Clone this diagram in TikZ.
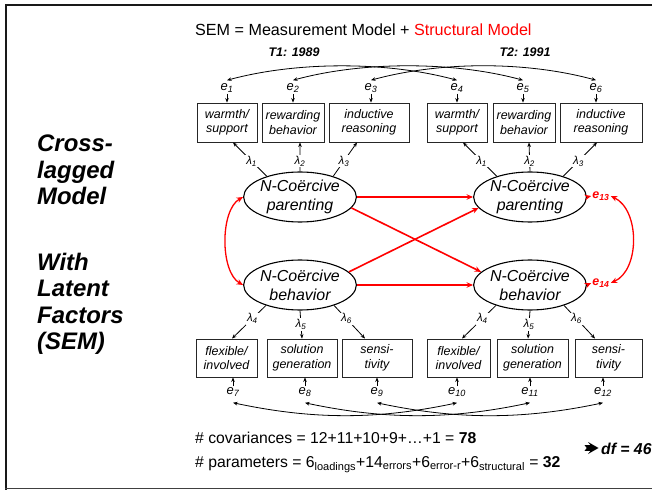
\documentclass[tikz,border=0pt]{standalone}
\usepackage{fontspec}
\setmainfont{Liberation Sans}
\usetikzlibrary{shapes.geometric,arrows.meta}

\tikzset{
  smalltip/.tip={Stealth[length=4.5bp,width=3.6bp]},
  redtip/.tip={Stealth[length=6.5bp,width=5.5bp]}
}

\begin{document}
\begin{tikzpicture}[x=1bp,y=-1bp,
  ind/.style={draw=black!85, line width=0.9bp, minimum height=39bp, inner sep=0pt,
    align=center, font=\fontsize{12.5}{14.5}\selectfont\itshape},
  lat/.style={ellipse, draw, line width=1.1bp, minimum width=104bp, minimum height=50bp,
    inner sep=0pt, align=center, font=\fontsize{16}{19}\selectfont\itshape},
  err/.style={inner sep=1pt, font=\fontsize{13}{15}\selectfont\itshape},
  rerr/.style={inner sep=1pt, text=red, font=\fontsize{12.5}{15}\selectfont\bfseries\itshape},
  lam/.style={fill=white, inner sep=1pt, font=\fontsize{11.5}{13}\selectfont\itshape},
  side/.style={anchor=base west, inner sep=0pt, font=\fontsize{24}{26.5}\selectfont\bfseries\itshape},
  txt/.style={anchor=base west, inner sep=0pt, font=\fontsize{15.8}{18}\selectfont},
  tlabel/.style={anchor=base, inner sep=0pt, font=\fontsize{12.5}{15}\selectfont\bfseries\itshape},
  arr/.style={-smalltip, line width=0.8bp},
  cov/.style={smalltip-smalltip, line width=0.8bp},
  rarr/.style={-redtip, draw=red, line width=1.6bp},
  rcov/.style={redtip-redtip, draw=red, line width=1.3bp}
]
% page and frame
\useasboundingbox (0,0) rectangle (652,490);
\fill[white] (0,0) rectangle (652,490);
\draw[line width=2.5bp, black!90] (6,490) -- (6,5) -- (652,5);
\draw[line width=1.5bp, black!75] (5,488.5) -- (652,488.5);

% headings
\node[anchor=base west, inner sep=0pt, font=\fontsize{16.2}{19}\selectfont] (title) at (195,36)
  {SEM = Measurement Model + \textcolor{red}{Structural Model}};
\node[tlabel] (t1) at (294,57) {T1: 1989};
\node[tlabel] (t2) at (525,57) {T2: 1991};

% side caption
\node[side] (s1) at (37,152) {Cross-};
\node[side] (s2) at (37,178.5) {lagged};
\node[side] (s3) at (37,205) {Model};
\node[side] (s4) at (37,270) {With};
\node[side] (s5) at (37,296.5) {Latent};
\node[side] (s6) at (37,323) {Factors};
\node[side] (s7) at (37,349.5) {(SEM)};

% indicators, first wave and second wave
\node[ind, minimum width=60bp] (b1) at (227,122.5) {warmth/\\support};
\node[ind, minimum width=62bp] (b2) at (293,122.5) {rewarding\\behavior};
\node[ind, minimum width=80bp] (b3) at (369,122.5) {inductive\\reasoning};
\node[ind, minimum width=60bp] (b4) at (457,122.5) {warmth/\\support};
\node[ind, minimum width=62bp] (b5) at (524,122.5) {rewarding\\behavior};
\node[ind, minimum width=82bp] (b6) at (601,122.5) {inductive\\reasoning};

\node[ind, minimum width=61bp, minimum height=38bp] (b7)  at (226.5,358) {flexible/\\involved};
\node[ind, minimum width=70bp, minimum height=38bp] (b8)  at (302,358) {solution\\generation};
\node[ind, minimum width=70bp, minimum height=38bp] (b9)  at (377,358) {sensi-\\tivity};
\node[ind, minimum width=63bp, minimum height=38bp] (b10) at (458.5,358) {flexible/\\involved};
\node[ind, minimum width=71bp, minimum height=38bp] (b11) at (532.5,358) {solution\\generation};
\node[ind, minimum width=67bp, minimum height=38bp] (b12) at (608.5,358) {sensi-\\tivity};

% latent factors
\node[lat] (pT1) at (300,197) {N-Coërcive\\parenting};
\node[lat] (pT2) at (530,197) {N-Coërcive\\parenting};
\node[lat] (bT1) at (300,285) {N-Coërcive\\behavior};
\node[lat] (bT2) at (530,285) {N-Coërcive\\behavior};

% measurement errors
\node[err] (e1) at (227,88) {e\textsubscript{1}};
\node[err] (e2) at (293,88) {e\textsubscript{2}};
\node[err] (e3) at (371,88) {e\textsubscript{3}};
\node[err] (e4) at (457,88) {e\textsubscript{4}};
\node[err] (e5) at (523,88) {e\textsubscript{5}};
\node[err] (e6) at (596,88) {e\textsubscript{6}};
\node[err] (e7)  at (233,392) {e\textsubscript{7}};
\node[err] (e8)  at (305,392) {e\textsubscript{8}};
\node[err] (e9)  at (377,392) {e\textsubscript{9}};
\node[err] (e10) at (457,392) {e\textsubscript{10}};
\node[err] (e11) at (530,392) {e\textsubscript{11}};
\node[err] (e12) at (603,392) {e\textsubscript{12}};

% disturbances
\node[rerr] (e13) at (601,196) {e\textsubscript{13}};
\node[rerr] (e14) at (601,283) {e\textsubscript{14}};

% error arrows
\foreach \e/\b in {e1/b1,e2/b2,e3/b3,e4/b4,e5/b5,e6/b6}
  \draw[arr] (\e.south) -- (\e.south |- \b.north);
\foreach \e/\b in {e7/b7,e8/b8,e9/b9,e10/b10,e11/b11,e12/b12}
  \draw[arr] (\e.north) -- (\e.north |- \b.south);

% error covariances over time
\foreach \a/\b in {e1/e4,e2/e5,e3/e6}
  \draw[cov] ([yshift=2bp]\a.north) .. controls +(70,-19) and +(-70,-19) .. ([yshift=2bp]\b.north);
\foreach \a/\b in {e7/e10,e8/e11,e9/e12}
  \draw[cov] ([yshift=-5bp]\a.south) .. controls +(80,17) and +(-80,17) .. ([yshift=-5bp]\b.south);

% loadings, parenting
\draw[arr] (pT1.148) -- node[lam,pos=.45]{λ\textsubscript{1}} ([xshift=6bp]b1.south);
\draw[arr] (pT1.north) -- node[lam,pos=.35]{λ\textsubscript{2}} ([xshift=7bp]b2.south);
\draw[arr] (pT1.32) -- node[lam,pos=.45]{λ\textsubscript{3}} ([xshift=-12bp]b3.south);
\draw[arr] (pT2.148) -- node[lam,pos=.45]{λ\textsubscript{1}} ([xshift=6bp]b4.south);
\draw[arr] (pT2.north) -- node[lam,pos=.35]{λ\textsubscript{2}} ([xshift=5bp]b5.south);
\draw[arr] (pT2.32) -- node[lam,pos=.45]{λ\textsubscript{3}} ([xshift=-4bp]b6.south);

% loadings, behavior
\draw[arr] (bT1.211) -- node[lam,pos=.4]{λ\textsubscript{4}} ([xshift=5.5bp]b7.north);
\draw[arr] (bT1.south) -- node[lam,pos=.5]{λ\textsubscript{5}} ([xshift=0bp]b8.north);
\draw[arr] (bT1.329) -- node[lam,pos=.4]{λ\textsubscript{6}} ([xshift=-12bp]b9.north);
\draw[arr] (bT2.211) -- node[lam,pos=.4]{λ\textsubscript{4}} ([xshift=3.5bp]b10.north);
\draw[arr] (bT2.south) -- node[lam,pos=.5]{λ\textsubscript{5}} ([xshift=-4.5bp]b11.north);
\draw[arr] (bT2.329) -- node[lam,pos=.4]{λ\textsubscript{6}} ([xshift=-13.5bp]b12.north);

% structural model
\draw[rarr] (pT1.east) -- (pT2.west);
\draw[rarr] (bT1.east) -- (bT2.west);
\draw[rarr] (pT1.348) -- (bT2.165);
\draw[rarr] (bT1.15) -- (pT2.192);
\draw[rarr] (pT2.east) -- (e13.west);
\draw[rarr] (bT2.east) -- (e14.west);
\draw[rcov] (pT1.west) .. controls (220,210) and (220,272) .. (bT1.west);
\draw[rcov] (e13.east) .. controls (640,210) and (640,270) .. (e14.east);

% model counts
\node[txt] (cv) at (195,443) {\# covariances = 12+11+10+9+…+1 = \textbf{78}};
\node[txt] (pm) at (195,467) {\# parameters = 6\textsubscript{loadings}+14\textsubscript{errors}+6\textsubscript{error-r}+6\textsubscript{structural} = \textbf{32}};
% heavy arrow pointing to the result
\fill[black] (584.5,445.2) -- (590.5,445.2) -- (588,442) -- (598.5,448) -- (588,454)
  -- (590.5,450.8) -- (584.5,450.8) -- (586.8,448) -- cycle;
\node[txt, font=\fontsize{15.8}{18}\selectfont\bfseries\itshape] (df) at (601,454) {df = 46};
\end{tikzpicture}
\end{document}
